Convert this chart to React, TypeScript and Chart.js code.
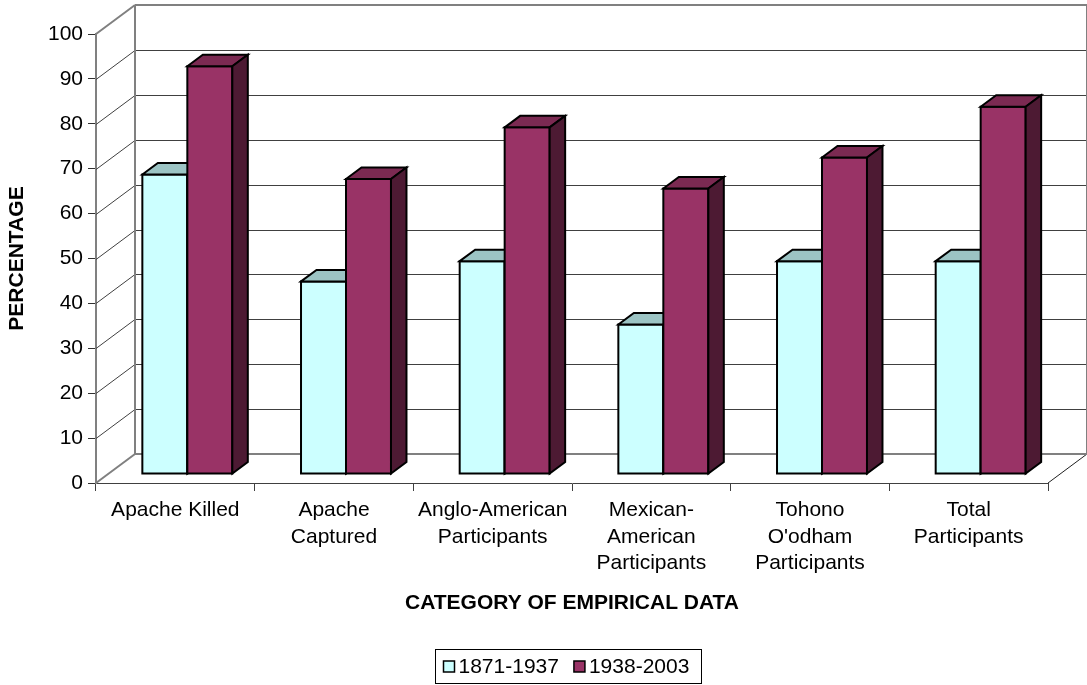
import React, { useEffect, useRef } from 'react';
import { Chart, registerables } from 'chart.js';

Chart.register(...registerables);

// ---------- data ----------
const categories: (string | string[])[] = [
  'Apache Killed',
  ['Apache', 'Captured'],
  ['Anglo-American', 'Participants'],
  ['Mexican-', 'American', 'Participants'],
  ['Tohono', "O'odham", 'Participants'],
  ['Total', 'Participants'],
];
const seriesNames = ['1871-1937', '1938-2003'];
const period1871 = [66.7, 42.9, 47.4, 33.3, 47.4, 47.4];
const period1938 = [90.8, 65.7, 77.2, 63.6, 70.5, 81.8];
const yTicks = [0, 10, 20, 30, 40, 50, 60, 70, 80, 90, 100];
const yAxisTitle = 'PERCENTAGE';
const xAxisTitle = 'CATEGORY OF EMPIRICAL DATA';

// ---------- style ----------
const FONT = "'Liberation Sans', Arial, Helvetica, sans-serif";
const FS = 21;
const WALL_DX = 39;
const WALL_DY = -29;
const BAR_SHIFT_X = 12;
const BAR_SHIFT_Y = -9;
const BAR_DX = 15.5;
const BAR_DY = -11.5;
const FRONT = ['#CCFFFF', '#993366'];
const TOP = ['#9CC4C4', '#7B2A52'];
const SIDE = ['#7FA6A6', '#4D1A33'];
const WALL_COLOR = '#808080';
const GRID_COLOR = '#404040';

function line(ctx: CanvasRenderingContext2D, x1: number, y1: number, x2: number, y2: number) {
  ctx.beginPath();
  ctx.moveTo(x1, y1);
  ctx.lineTo(x2, y2);
  ctx.stroke();
}

function poly(ctx: CanvasRenderingContext2D, pts: number[][], fill: string) {
  ctx.beginPath();
  ctx.moveTo(pts[0][0], pts[0][1]);
  for (let i = 1; i < pts.length; i++) ctx.lineTo(pts[i][0], pts[i][1]);
  ctx.closePath();
  ctx.fillStyle = fill;
  ctx.fill();
  ctx.stroke();
}

const threeD = {
  id: 'threeD',
  beforeDatasetsDraw(chart: any) {
    const { ctx, chartArea: a } = chart;
    const y = chart.scales.y;
    const y0 = y.getPixelForValue(yTicks[0]);
    const yMax = y.getPixelForValue(yTicks[yTicks.length - 1]);
    ctx.save();
    // gridlines on left wall and back wall
    ctx.lineWidth = 1;
    ctx.strokeStyle = GRID_COLOR;
    for (let i = 1; i < yTicks.length - 1; i++) {
      const py = Math.round(y.getPixelForValue(yTicks[i])) + 0.5;
      line(ctx, a.left, py, a.left + WALL_DX, py + WALL_DY);
      line(ctx, a.left + WALL_DX, py + WALL_DY, a.right + WALL_DX, py + WALL_DY);
    }
    // floor right edge
    ctx.strokeStyle = '#202020';
    line(ctx, a.right, y0, a.right + WALL_DX, y0 + WALL_DY);
    // wall frame
    ctx.strokeStyle = WALL_COLOR;
    ctx.lineWidth = 2;
    line(ctx, a.left, yMax, a.left + WALL_DX, yMax + WALL_DY);
    line(ctx, a.left + WALL_DX, yMax + WALL_DY, a.right + WALL_DX, yMax + WALL_DY);
    line(ctx, a.left + WALL_DX, yMax + WALL_DY, a.left + WALL_DX, y0 + WALL_DY);
    line(ctx, a.right + WALL_DX, yMax + WALL_DY, a.right + WALL_DX, y0 + WALL_DY);
    line(ctx, a.left + WALL_DX, y0 + WALL_DY, a.right + WALL_DX, y0 + WALL_DY);
    line(ctx, a.left, y0, a.left + WALL_DX, y0 + WALL_DY);
    ctx.restore();
    ctx.save();
    ctx.translate(BAR_SHIFT_X, BAR_SHIFT_Y);
  },
  afterDatasetsDraw(chart: any) {
    const ctx = chart.ctx;
    const metas = chart.data.datasets.map((_: any, i: number) => chart.getDatasetMeta(i));
    const n = chart.data.labels.length;
    ctx.lineWidth = 2;
    ctx.strokeStyle = '#000';
    ctx.lineJoin = 'miter';
    for (let j = 0; j < n; j++) {
      for (let i = 0; i < metas.length; i++) {
        const bar = metas[i].data[j];
        if (!bar) continue;
        const { x, y, base, width } = bar.getProps(['x', 'y', 'base', 'width'], true);
        const L = x - width / 2;
        const R = x + width / 2;
        const T = y;
        const B = base;
        poly(ctx, [[L, T], [R, T], [R, B], [L, B]], FRONT[i]);
        poly(ctx, [[L, T], [L + BAR_DX, T + BAR_DY], [R + BAR_DX, T + BAR_DY], [R, T]], TOP[i]);
        poly(ctx, [[R, T], [R + BAR_DX, T + BAR_DY], [R + BAR_DX, B + BAR_DY], [R, B]], SIDE[i]);
      }
    }
    ctx.restore();
  },
};

const boxedLegend = {
  id: 'boxedLegend',
  afterDraw(chart: any) {
    const ctx = chart.ctx;
    ctx.save();
    ctx.font = `${FS}px ${FONT}`;
    const sq = 11;
    const gapText = 4;
    const itemGap = 15;
    const padL = 8;
    const padR = 12;
    const widths = seriesNames.map((s) => ctx.measureText(s).width);
    let total = padL + padR + itemGap * (seriesNames.length - 1);
    widths.forEach((w) => (total += sq + gapText + w));
    const cx = (chart.chartArea.left + chart.chartArea.right) / 2 - 4.5;
    const left = Math.round(cx - total / 2) + 0.5;
    const top = 649.5;
    const h = 34;
    ctx.strokeStyle = '#000';
    ctx.lineWidth = 1;
    ctx.strokeRect(left, top, Math.round(total), h);
    let xx = left + padL;
    const midY = top + h / 2;
    seriesNames.forEach((s, i) => {
      ctx.fillStyle = FRONT[i];
      ctx.fillRect(xx, midY - sq / 2, sq, sq);
      ctx.lineWidth = 1.5;
      ctx.strokeRect(xx, midY - sq / 2, sq, sq);
      ctx.fillStyle = '#000';
      ctx.textBaseline = 'middle';
      ctx.textAlign = 'left';
      ctx.fillText(s, xx + sq + gapText, midY + 1);
      xx += sq + gapText + widths[i] + itemGap;
    });
    ctx.restore();
  },
};

export default function App() {
  const ref = useRef<HTMLCanvasElement>(null);
  useEffect(() => {
    const canvas = ref.current!;
    const chart = new Chart(canvas, {
      type: 'bar',
      data: {
        labels: categories as any,
        datasets: [
          {
            label: seriesNames[0],
            data: period1871,
            backgroundColor: FRONT[0],
            borderColor: '#000',
            borderWidth: 2,
            clip: false as any,
          },
          {
            label: seriesNames[1],
            data: period1938,
            backgroundColor: FRONT[1],
            borderColor: '#000',
            borderWidth: 2,
            clip: false as any,
          },
        ],
      },
      options: {
        responsive: false,
        animation: false,
        events: [],
        layout: { padding: { left: 0, top: 34, right: 39, bottom: 69 } },
        datasets: { bar: { categoryPercentage: 0.567, barPercentage: 1 } },
        plugins: { legend: { display: false }, tooltip: { enabled: false } },
        scales: {
          x: {
            grid: {
              display: true,
              drawOnChartArea: false,
              drawTicks: true,
              tickLength: 8,
              color: GRID_COLOR,
              offset: true,
            },
            border: { display: true, color: GRID_COLOR, width: 1 },
            ticks: {
              color: '#000',
              font: { family: FONT, size: FS, lineHeight: 1.27 },
              padding: 6,
              maxRotation: 0,
              minRotation: 0,
              autoSkip: false,
            },
            title: {
              display: true,
              text: xAxisTitle,
              color: '#000',
              font: { family: FONT, size: FS, weight: 'bold', lineHeight: 1.2 },
              padding: { top: 0, bottom: 0 },
            },
            afterFit: (s: any) => {
              s.height = 133;
            },
          },
          y: {
            min: yTicks[0],
            max: yTicks[yTicks.length - 1],
            afterBuildTicks: (s: any) => {
              s.ticks = yTicks.map((v) => ({ value: v }));
            },
            ticks: {
              color: '#000',
              font: { family: FONT, size: FS },
              padding: 5,
            },
            grid: {
              display: true,
              drawOnChartArea: false,
              drawTicks: true,
              tickLength: 8,
              color: '#303030',
            },
            border: { display: true, color: WALL_COLOR, width: 2 },
            title: {
              display: true,
              text: yAxisTitle,
              color: '#000',
              font: { family: FONT, size: FS, weight: 'bold', lineHeight: 1.2 },
              padding: { top: 5, bottom: 0 },
            },
            afterFit: (s: any) => {
              s.width = 96;
            },
          },
        },
      } as any,
      plugins: [threeD, boxedLegend],
    });
    return () => chart.destroy();
  }, []);
  return (
    <div style={{ position: 'absolute', left: 0, top: 0, width: 1087, height: 685, background: '#fff' }}>
      <canvas ref={ref} width={1087} height={685} style={{ display: 'block', width: 1087, height: 685 }} />
    </div>
  );
}
